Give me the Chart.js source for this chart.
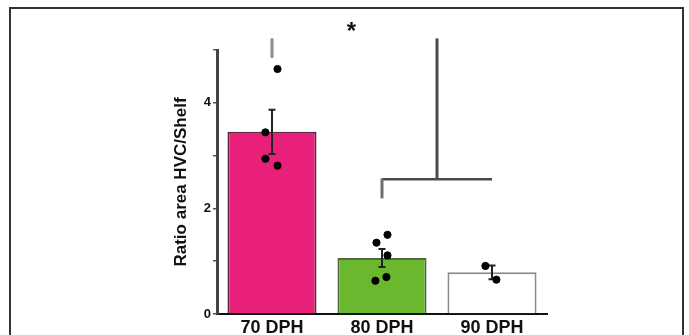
<!DOCTYPE html>
<html>
<head>
<meta charset="utf-8">
<script src="https://cdn.jsdelivr.net/npm/chart.js@4"></script>
<style>
  html, body { margin: 0; padding: 0; background: #fff; }
  #wrap { width: 689px; height: 335px; position: relative; }
</style>
</head>
<body>
<div id="wrap"><canvas id="c" width="689" height="335"></canvas></div>
<script>
// Age groups and HVC/Shelf area ratio (mean ± SEM) with individual birds
const categories = ['70 DPH', '80 DPH', '90 DPH'];
const means = [3.45, 1.06, 0.79];
const sem = [0.42, 0.17, 0.13];
const birds70 = [4.64, 3.44, 2.94, 2.81];
const birds80 = [1.50, 1.35, 1.11, 0.70, 0.63];
const birds90 = [0.91, 0.65];
const jitter70 = [0.05, -0.06, -0.06, 0.05];
const jitter80 = [0.05, -0.05, 0.05, 0.04, -0.06];
const jitter90 = [-0.06, 0.04];
const yTicks = [0, 1, 2, 3, 4, 5];

const barColors = ['#e8207a', '#69b82e', '#ffffff'];
const barBorders = ['#5a2a44', '#4f6a3e', '#8a8a8a'];

function points(vals, jit, idx) {
  return vals.map((v, i) => ({ x: idx + jit[i], y: v }));
}
const dots = [
  ...points(birds70, jitter70, 0),
  ...points(birds80, jitter80, 1),
  ...points(birds90, jitter90, 2)
];

const FONT = '"Liberation Sans", Arial, sans-serif';

// Error bars drawn right after the bars, under the individual points
const errorBars = {
  id: 'errorBars',
  afterDatasetDraw(chart, args) {
    if (args.index !== 0) return;
    const { ctx } = chart;
    const xs = chart.scales.x, ys = chart.scales.y;
    ctx.save();
    ctx.strokeStyle = '#222';
    ctx.lineWidth = 2;
    means.forEach((m, i) => {
      const x = xs.getPixelForValue(i);
      const yt = ys.getPixelForValue(m + sem[i]);
      const yb = ys.getPixelForValue(m - sem[i]);
      ctx.beginPath();
      ctx.moveTo(x, yt); ctx.lineTo(x, yb);
      ctx.moveTo(x - 3.5, yt); ctx.lineTo(x + 3.5, yt);
      ctx.moveTo(x - 3.5, yb); ctx.lineTo(x + 3.5, yb);
      ctx.stroke();
    });
    ctx.restore();
  }
};

// Significance bracket (70 DPH vs 80+90 DPH), star and outer frame
const decorations = {
  id: 'decorations',
  afterDraw(chart) {
    const { ctx } = chart;
    const xs = chart.scales.x, ys = chart.scales.y;
    const x0 = xs.getPixelForValue(0);
    const x1 = xs.getPixelForValue(1);
    const x2 = xs.getPixelForValue(2);
    const xm = (x1 + x2) / 2;
    const yTop = ys.getPixelForValue(5.22);
    const yArm = ys.getPixelForValue(4.85);
    const yGroup = ys.getPixelForValue(2.55);
    const yDrop = ys.getPixelForValue(2.19);
    ctx.save();
    ctx.lineCap = 'butt';
    ctx.strokeStyle = '#8c8c8c';
    ctx.lineWidth = 3;
    ctx.beginPath(); ctx.moveTo(x0, yTop); ctx.lineTo(x0, yArm); ctx.stroke();
    ctx.strokeStyle = '#4a4a4a';
    ctx.lineWidth = 3;
    ctx.beginPath(); ctx.moveTo(xm, yTop); ctx.lineTo(xm, yGroup); ctx.stroke();
    ctx.lineWidth = 2.5;
    ctx.beginPath(); ctx.moveTo(x1, yGroup); ctx.lineTo(x2, yGroup); ctx.stroke();
    ctx.strokeStyle = '#6e6e6e';
    ctx.lineWidth = 3;
    ctx.beginPath(); ctx.moveTo(x1, yGroup - 1); ctx.lineTo(x1, yDrop); ctx.stroke();

    ctx.fillStyle = '#111';
    ctx.font = 'bold 24px ' + FONT;
    ctx.textAlign = 'center';
    ctx.textBaseline = 'middle';
    ctx.fillText('*', (x0 + xm) / 2 - 3, ys.getPixelForValue(5.33));

    ctx.strokeStyle = '#333';
    ctx.lineWidth = 2;
    ctx.strokeRect(10, 8, 673, 345);
    ctx.restore();
  }
};

new Chart(document.getElementById('c'), {
  data: {
    labels: categories,
    datasets: [
      {
        type: 'bar',
        data: means,
        backgroundColor: barColors,
        borderColor: barBorders,
        borderWidth: 2,
        borderSkipped: 'bottom',
        grouped: false,
        categoryPercentage: 1,
        barPercentage: 0.81,
        order: 2,
        xAxisID: 'x'
      },
      {
        type: 'scatter',
        data: dots,
        backgroundColor: '#000',
        borderColor: '#000',
        pointRadius: 3.6,
        order: 1,
        xAxisID: 'xj',
        clip: false
      }
    ]
  },
  options: {
    responsive: false,
    animation: false,
    events: [],
    layout: { padding: { left: 168, right: 142, top: 50, bottom: 0 } },
    plugins: { legend: { display: false }, tooltip: { enabled: false } },
    scales: {
      x: {
        type: 'category',
        offset: true,
        grid: { display: false, drawTicks: false },
        border: { display: true, color: '#111', width: 2 },
        ticks: { color: '#111', font: { family: FONT, size: 18, weight: 'bold' }, padding: 3 },
        afterFit(s) { s.height = 21; }
      },
      xj: {
        type: 'linear',
        display: false,
        min: -0.5,
        max: 2.5
      },
      y: {
        type: 'linear',
        min: 0,
        max: 5,
        afterBuildTicks(s) { s.ticks = yTicks.map(v => ({ value: v })); },
        ticks: {
          color: '#111',
          font: { family: FONT, size: 13, weight: 'bold' },
          padding: 2,
          callback: v => (v % 2 === 0 && v < 5 ? String(v) : '')
        },
        grid: { display: true, drawOnChartArea: false, drawTicks: true, tickLength: 4, color: '#555', lineWidth: 1.5 },
        border: { display: true, color: '#444', width: 3 },
        title: {
          display: true,
          text: 'Ratio area HVC/Shelf',
          color: '#111',
          font: { family: FONT, size: 17, weight: 'bold' },
          padding: { top: 3, bottom: 0 }
        },
        afterFit(s) { s.width = 49; }
      }
    }
  },
  plugins: [errorBars, decorations]
});
</script>
</body>
</html>
